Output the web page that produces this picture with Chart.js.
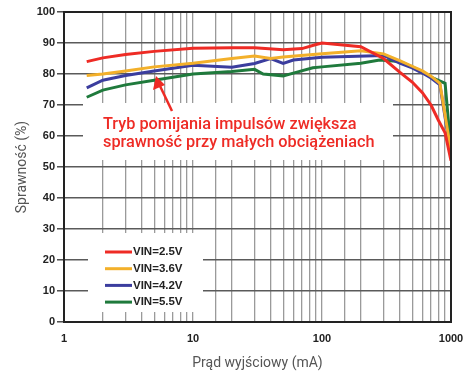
<!DOCTYPE html>
<html>
<head>
<meta charset="utf-8">
<script src="https://cdn.jsdelivr.net/npm/chart.js@4"></script>
<style>
  html, body { margin: 0; padding: 0; background: #fff; }
  #wrap { width: 463px; height: 376px; }
</style>
</head>
<body>
<div id="wrap"><canvas id="chart"></canvas></div>
<script>
// prad wyjsciowy (mA) i sprawnosc (%)
const labels = ['VIN=2.5V', 'VIN=3.6V', 'VIN=4.2V', 'VIN=5.5V'];
const colors = ['#ee2b25', '#f3b02a', '#3b3d9e', '#1f7a3c'];

const i25 = [1.5, 2, 3, 5, 10, 20, 30, 50, 70, 90, 100, 200, 300, 400, 500, 600, 700, 800, 900, 1000];
const e25 = [84, 85.2, 86.3, 87.3, 88.3, 88.5, 88.5, 87.8, 88.2, 89.5, 90, 88.8, 85, 80.6, 77.4, 74, 70, 65, 61, 52];

const i36 = [1.5, 2, 3, 5, 10, 20, 30, 40, 50, 100, 200, 300, 400, 500, 600, 700, 820, 1000];
const e36 = [79.5, 80, 81, 82.3, 83.5, 85, 85.8, 85, 85.5, 86.5, 87.5, 86.5, 84.3, 82.5, 81, 79.3, 77, 55];

const i42 = [1.5, 2, 3, 5, 10, 20, 30, 40, 50, 60, 100, 300, 400, 500, 600, 700, 820, 1000];
const e42 = [75.5, 78, 79.5, 81, 82.8, 82.2, 83.4, 85, 83.4, 84.5, 85.4, 86, 83.5, 82, 80.3, 78.7, 76.5, 54];

const i55 = [1.5, 2, 3, 5, 10, 20, 30, 35, 50, 65, 85, 100, 200, 280, 400, 500, 600, 700, 900, 1000];
const e55 = [72.5, 74.8, 76.5, 78, 80, 80.8, 81.5, 80, 79.4, 80.7, 82, 82.3, 83.5, 84.5, 84, 82.3, 80.6, 79, 77, 55.5];

const xLabels = [1, 10, 100, 1000];
const note = ['Tryb pomijania impulsów zwiększa', 'sprawność przy małych obciążeniach'];

function pts(xs, ys) {
    return xs.map((x, i) => ({ x: x, y: ys[i] }));
}

const series = [pts(i25, e25), pts(i36, e36), pts(i42, e42), pts(i55, e55)];

const overlay = {
    id: 'overlay',
    beforeDatasetsDraw(chart) {
        const ctx = chart.ctx;
        ctx.save();
        ctx.fillStyle = '#fff';
        // tlo pod napisem i legenda
        ctx.fillRect(83, 103, 310, 57);
        ctx.fillRect(88, 233, 115, 79);
        ctx.restore();
    },
    afterDatasetsDraw(chart) {
        const ctx = chart.ctx;
        const a = chart.chartArea;
        ctx.save();
        // ramka
        ctx.strokeStyle = '#222';
        ctx.lineWidth = 2;
        ctx.strokeRect(a.left, a.top, a.right - a.left, a.bottom - a.top);

        // strzalka
        ctx.strokeStyle = '#ee2b25';
        ctx.fillStyle = '#ee2b25';
        ctx.lineWidth = 2.5;
        ctx.beginPath();
        ctx.moveTo(172, 111);
        ctx.lineTo(160, 86);
        ctx.stroke();
        ctx.beginPath();
        ctx.moveTo(156, 76);
        ctx.lineTo(153, 90);
        ctx.lineTo(165, 85);
        ctx.closePath();
        ctx.fill();

        // napis
        ctx.font = '500 16.3px Roboto';
        ctx.textBaseline = 'middle';
        ctx.textAlign = 'left';
        ctx.fillText(note[0], 103, 125);
        ctx.fillText(note[1], 103, 143);

        // legenda
        ctx.font = 'bold 11.5px "Liberation Sans"';
        ctx.fillStyle = '#222';
        chart.data.datasets.forEach((ds, i) => {
            const y = 252 + i * 16.7;
            ctx.strokeStyle = ds.borderColor;
            ctx.lineWidth = 3;
            ctx.beginPath();
            ctx.moveTo(105, y);
            ctx.lineTo(132, y);
            ctx.stroke();
            ctx.fillText(ds.label, 133, y);
        });
        ctx.restore();
    }
};

const config = {
    type: 'line',
    data: {
        datasets: series.map((d, i) => ({
            label: labels[i],
            data: d,
            borderColor: colors[i],
            backgroundColor: colors[i],
            borderWidth: 3,
            pointRadius: 0,
            tension: 0,
            fill: false
        }))
    },
    options: {
        responsive: true,
        maintainAspectRatio: false,
        animation: false,
        layout: { padding: { top: 12, right: 12, left: 0, bottom: 0 } },
        plugins: {
            legend: { display: false },
            tooltip: { enabled: false }
        },
        scales: {
            x: {
                type: 'logarithmic',
                min: 1,
                max: 1000,
                afterFit(scale) {
                    scale.height = 54;
                    scale.paddingLeft = 0;
                    scale.paddingRight = 0;
                },
                border: { display: true, color: '#111', width: 2 },
                grid: { color: '#9a9a9a', lineWidth: 1.3, drawTicks: false },
                ticks: {
                    autoSkip: false,
                    maxRotation: 0,
                    padding: 10,
                    color: '#222',
                    font: { family: 'Liberation Sans', size: 11, weight: 'bold' },
                    callback: (v) => xLabels.includes(v) ? String(v) : ''
                },
                title: {
                    display: true,
                    text: 'Prąd wyjściowy (mA)',
                    color: '#555',
                    font: { family: 'Roboto', size: 14 },
                    padding: { top: 4, bottom: 4 }
                }
            },
            y: {
                min: 0,
                max: 100,
                afterFit(scale) {
                    scale.width = 64;
                    scale.paddingTop = 0;
                    scale.paddingBottom = 0;
                },
                border: { display: true, color: '#111', width: 2 },
                grid: { color: '#5a5a5a', lineWidth: 1.6, tickLength: 7, tickColor: '#333', tickWidth: 1.3 },
                ticks: {
                    stepSize: 10,
                    padding: 2,
                    color: '#222',
                    font: { family: 'Liberation Sans', size: 11, weight: 'bold' }
                },
                title: {
                    display: true,
                    text: 'Sprawność (%)',
                    color: '#555',
                    font: { family: 'Roboto', size: 14 },
                    padding: { top: 14, bottom: 0 }
                }
            }
        }
    },
    plugins: [overlay]
};

new Chart(document.getElementById('chart'), config);
</script>
</body>
</html>
